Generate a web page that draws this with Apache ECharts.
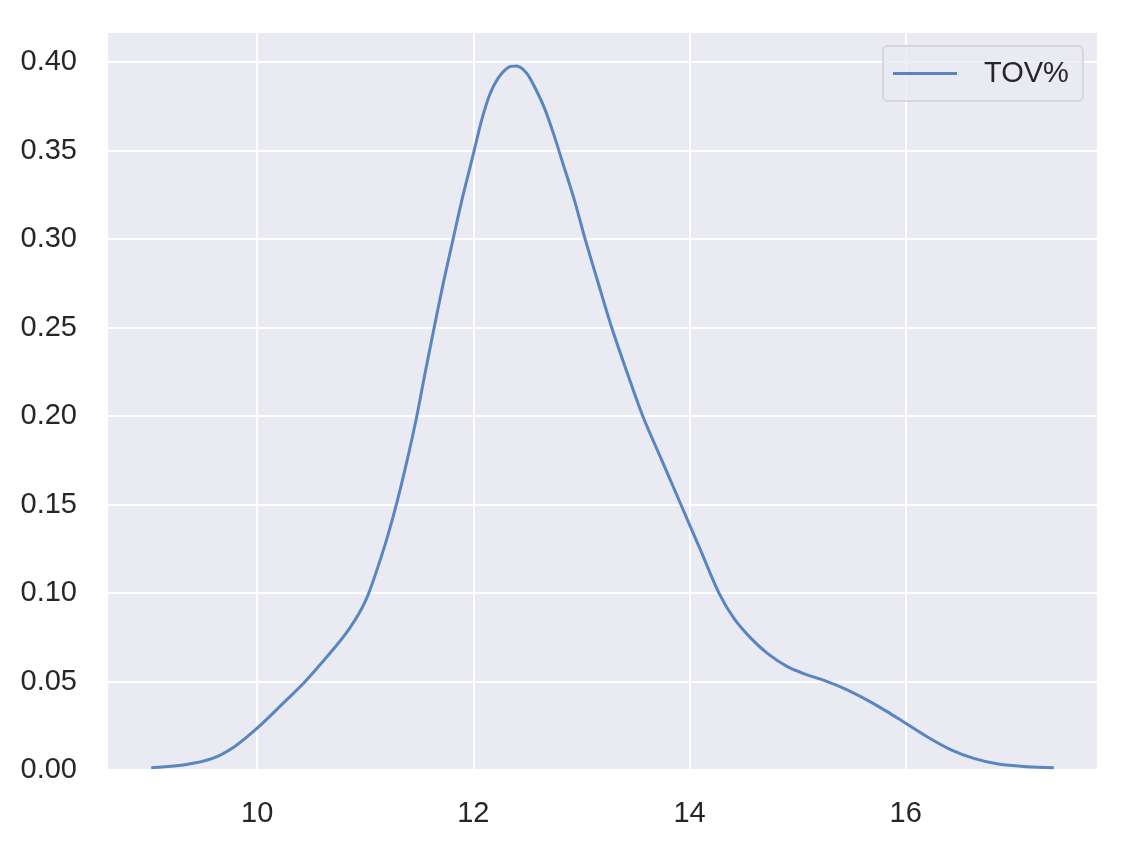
<!DOCTYPE html>
<html>
<head>
<meta charset="utf-8">
<script src="https://cdn.jsdelivr.net/npm/echarts@6/dist/echarts.min.js"></script>
<style>
html,body{margin:0;padding:0;background:#ffffff;}
#chart{width:1122px;height:842px;}
</style>
</head>
<body>
<div id="chart"></div>
<script>
const seriesName = 'TOV%';
const xTicks = [10, 12, 14, 16];
const yTicks = [0, 0.05, 0.10, 0.15, 0.20, 0.25, 0.30, 0.35, 0.40];
const xValues = [
  9.02, 9.33, 9.58, 9.79, 10.0, 10.22, 10.44, 10.72, 10.82, 10.905,
  10.97, 11.03, 11.105, 11.197, 11.29, 11.382, 11.474, 11.551, 11.628, 11.72,
  11.813, 11.9, 12.0, 12.074, 12.151, 12.228, 12.32, 12.397, 12.49, 12.566,
  12.659, 12.75, 12.828, 12.935, 13.028, 13.151, 13.28, 13.42, 13.567, 13.74,
  13.92, 14.10, 14.274, 14.413, 14.567, 14.721, 14.905, 15.09, 15.213, 15.428,
  15.644, 15.828, 16.0, 16.198, 16.41, 16.63, 16.87, 17.12, 17.37
];
const densityValues = [
  0.0013, 0.003, 0.0064, 0.0132, 0.0236, 0.0365, 0.0497, 0.0693, 0.077, 0.0847,
  0.0915, 0.0995, 0.1125, 0.130, 0.1505, 0.1735, 0.199, 0.2235, 0.247, 0.2745,
  0.300, 0.3235, 0.348, 0.3665, 0.3815, 0.3908, 0.3968, 0.3977, 0.394, 0.386,
  0.3738, 0.358, 0.3428, 0.322, 0.3013, 0.276, 0.250, 0.225, 0.200, 0.1755,
  0.150, 0.1245, 0.0998, 0.0855, 0.0745, 0.0659, 0.0584, 0.0537, 0.0513, 0.0461,
  0.0395, 0.033, 0.0264, 0.0188, 0.0117, 0.0066, 0.0032, 0.0019, 0.0013
];

const chart = echarts.init(document.getElementById('chart'));
const font = "'Liberation Sans', Arial, 'DejaVu Sans', sans-serif";
const textColor = '#262626';
const lineColor = '#5a86bf';

chart.setOption({
  animation: false,
  backgroundColor: '#ffffff',
  grid: { left: 108, right: 25, top: 33, bottom: 72, show: true, backgroundColor: '#eaeaf2', borderWidth: 0 },
  legend: {
    left: 883, top: 46,
    padding: [13, 14, 13, 10],
    backgroundColor: 'rgba(234,234,242,0.8)',
    borderColor: '#d6d6da', borderWidth: 2, borderRadius: 5,
    itemWidth: 64, itemHeight: 3,
    data: [{ name: seriesName, icon: 'rect' }],
    textStyle: { fontFamily: font, fontSize: 29, color: textColor, padding: [0, 0, 0, 22] }
  },
  xAxis: {
    type: 'value', min: 8.62, max: 17.77,
    axisLine: { show: false }, axisTick: { show: false, customValues: xTicks },
    splitLine: { show: true, lineStyle: { color: '#ffffff', width: 2 } },
    axisLabel: { customValues: xTicks, margin: 29, fontFamily: font, fontSize: 29, color: textColor }
  },
  yAxis: {
    type: 'value', min: 0, max: 0.4164,
    axisLine: { show: false }, axisTick: { show: false, customValues: yTicks },
    splitLine: { show: true, lineStyle: { color: '#ffffff', width: 2 } },
    axisLabel: {
      customValues: yTicks, margin: 31, fontFamily: font, fontSize: 29, color: textColor,
      formatter: v => v.toFixed(2)
    }
  },
  series: [{
    name: seriesName, type: 'line',
    data: xValues.map((x, i) => [x, densityValues[i]]),
    showSymbol: false, smooth: 0.3,
    lineStyle: { color: lineColor, width: 3 },
    itemStyle: { color: lineColor }
  }]
});
</script>
</body>
</html>
